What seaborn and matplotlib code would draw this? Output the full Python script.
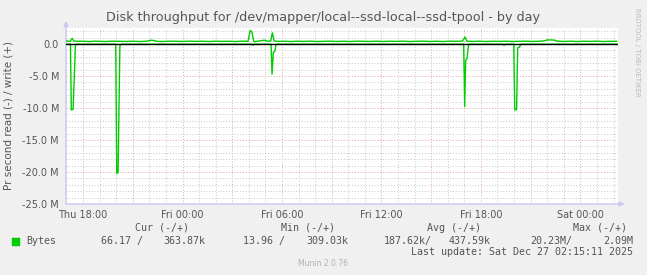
import numpy as np
import pandas as pd
import matplotlib
matplotlib.use("Agg")
import matplotlib.pyplot as plt
import matplotlib.dates as mdates
from matplotlib.ticker import MultipleLocator, FuncFormatter
import seaborn as sns

# ---------------- data (hours relative to Thu 2025-12-25 18:00, values in MB/s) ----------------
write_hours = [-1.00, -0.90, -0.78, -0.66, -0.56, -0.30, 0.00, 0.35, 0.70, 1.00, 1.40, 1.80, 2.20,
               2.60, 3.00, 3.40, 3.80, 4.15, 4.45, 4.80, 5.20, 5.60, 6.00, 6.40, 6.80, 7.20, 7.60,
               8.00, 8.40, 8.80, 9.20, 9.60, 9.95, 10.08, 10.18, 10.30, 10.55, 10.95, 11.15, 11.32,
               11.42, 11.52, 11.75, 12.10, 12.50, 12.90, 13.30, 13.70, 14.10, 14.50, 14.90, 15.30,
               15.70, 16.10, 16.50, 16.90, 17.30, 17.70, 18.10, 18.50, 18.90, 19.30, 19.70, 20.10,
               20.50, 20.90, 21.30, 21.70, 22.10, 22.50, 22.90, 23.04, 23.15, 23.50, 23.90, 24.30,
               24.70, 25.10, 25.50, 25.90, 26.30, 26.70, 27.10, 27.50, 27.85, 28.00, 28.40, 28.60,
               29.00, 29.40, 29.80, 30.20, 30.60, 31.00, 31.40, 31.80, 32.20]
write_vals = [0.50, 0.42, 0.42, 0.88, 0.46, 0.42, 0.44, 0.38, 0.44, 0.42, 0.39, 0.44, 0.42,
              0.40, 0.44, 0.39, 0.43, 0.60, 0.42, 0.39, 0.44, 0.42, 0.40, 0.44, 0.41, 0.43, 0.39,
              0.44, 0.41, 0.43, 0.39, 0.44, 0.42, 2.09, 1.95, 0.36, 0.44, 0.60, 0.42, 0.46,
              1.75, 0.50, 0.40, 0.44, 0.39, 0.43, 0.41, 0.44, 0.39, 0.42, 0.44, 0.40,
              0.43, 0.39, 0.44, 0.42, 0.40, 0.44, 0.39, 0.43, 0.41, 0.44, 0.39, 0.42,
              0.44, 0.40, 0.43, 0.39, 0.44, 0.42, 0.46, 1.10, 0.44, 0.40, 0.44, 0.39,
              0.43, 0.41, 0.44, 0.39, 0.42, 0.44, 0.40, 0.43, 0.50, 0.64, 0.62, 0.44,
              0.40, 0.44, 0.39, 0.43, 0.41, 0.44, 0.39, 0.42, 0.42]

read_hours = [-1.00, -0.76, -0.71, -0.60, -0.46, 1.97, 2.03, 2.11, 2.22, 2.30, 10.20, 10.26, 10.32,
              11.34, 11.40, 11.48, 11.56, 11.64, 22.96, 23.02, 23.08, 23.16, 23.26, 25.34, 25.39,
              25.45, 25.98, 26.04, 26.15, 26.22, 26.32, 26.42, 32.20]
read_vals = [0.03, 0.03, 10.30, 10.20, 0.03, 0.03, 20.23, 20.10, 0.30, 0.03, 0.03, 0.20, 0.03,
             0.03, 4.70, 1.30, 1.20, 0.03, 0.03, 9.80, 2.50, 2.30, 0.03, 0.03, 0.20,
             0.03, 0.03, 10.30, 10.25, 0.60, 0.50, 0.03, 0.03]

title = "Disk throughput for /dev/mapper/local--ssd-local--ssd-tpool - by day"
ylabel = "Pr second read (-) / write (+)"
legend_headers = ["Cur (-/+)", "Min (-/+)", "Avg (-/+)", "Max (-/+)"]
legend_values = ["66.17 /", "363.87k", "13.96 /", "309.03k", "187.62k/", "437.59k", "20.23M/", "2.09M"]
series_name = "Bytes"
last_update = "Last update: Sat Dec 27 02:15:11 2025"
version = "Munin 2.0.76"
watermark = "RRDTOOL / TOBI OETIKER"

base = pd.Timestamp("2025-12-25 18:00")
df = pd.concat([
    pd.DataFrame({"time": base + pd.to_timedelta(write_hours, unit="h"),
                  "value": write_vals, "dir": "write"}),
    pd.DataFrame({"time": base + pd.to_timedelta(read_hours, unit="h"),
                  "value": -np.array(read_vals), "dir": "read"}),
], ignore_index=True)

# ---------------- figure ----------------
sns.set_style("white")
plt.rcParams["font.family"] = ["DejaVu Sans"]
W, H = 647, 275
fig = plt.figure(figsize=(W / 100, H / 100), dpi=100, facecolor="#f0f0f0")
L, R, T, B = 66, 618, 28, 204
ax = fig.add_axes([L / W, 1 - B / H, (R - L) / W, (B - T) / H])
ax.set_facecolor("white")

GRID_MINOR = "#c8c8c8"
GRID_MAJOR = "#e8a8a8"
TXT = "#555555"

sns.lineplot(data=df, x="time", y="value", hue="dir", palette={"write": "#00cc00", "read": "#00cc00"},
             estimator=None, legend=False, lw=1.0, ax=ax, zorder=4)
ax.axhline(0, color="black", lw=1.0, zorder=5)

ax.set_xlim(base - pd.Timedelta(hours=1.03), base + pd.Timedelta(hours=32.27))
ax.set_ylim(-25, 2.5)

# x grid
ax.xaxis.set_major_locator(mdates.HourLocator(byhour=range(0, 24, 3)))
ax.xaxis.set_minor_locator(mdates.HourLocator())
def xfmt(v, pos):
    d = mdates.num2date(v)
    return d.strftime("%a %H:%M") if d.hour % 6 == 0 else ""
ax.xaxis.set_major_formatter(FuncFormatter(xfmt))
# y grid
ax.yaxis.set_major_locator(MultipleLocator(5))
ax.yaxis.set_minor_locator(MultipleLocator(1))
ax.yaxis.set_major_formatter(FuncFormatter(lambda v, p: "0.0" if abs(v) < 1e-9 else f"{v:.1f} M"))

ax.grid(which="minor", color=GRID_MINOR, lw=0.72, ls=(0, (1, 1.8)), zorder=1)
ax.grid(which="major", color=GRID_MAJOR, lw=0.72, ls=(0, (1, 1.8)), zorder=2)
ax.tick_params(which="minor", length=0)
ax.tick_params(axis="x", which="major", length=2, color=GRID_MAJOR, labelsize=7, labelcolor=TXT, pad=2)
ax.tick_params(axis="y", which="major", length=0, labelsize=7, labelcolor=TXT, pad=5)
ax.set_xlabel("")
ax.set_ylabel(ylabel, fontsize=7.5, color=TXT, labelpad=6)
for s in ax.spines.values():
    s.set_visible(False)

# axis lines with arrows
AX_COL = "#c8c8f0"
ax.annotate("", xy=(0, 1.04), xytext=(0, 0), xycoords="axes fraction",
            arrowprops=dict(arrowstyle="-|>", color=AX_COL, lw=1, mutation_scale=7, shrinkA=0, shrinkB=0))
ax.annotate("", xy=(1.012, 0), xytext=(0, 0), xycoords="axes fraction",
            arrowprops=dict(arrowstyle="-|>", color=AX_COL, lw=1, mutation_scale=7, shrinkA=0, shrinkB=0))

# title & other text
fig.text(323 / W, 1 - 17 / H, title, ha="center", va="center", fontsize=9.2, color=TXT)
fig.text(637 / W, 1 - 52 / H, watermark, ha="center", va="center", rotation=270, fontsize=5, color="#bbbbbb")

mono = dict(family="DejaVu Sans Mono", fontsize=7.2, color=TXT, va="center")
for txt, xr in zip(legend_headers, [189, 335, 481, 627]):
    fig.text(xr / W, 1 - 228 / H, txt, ha="right", **mono)
for txt, xr in zip(legend_values, [143, 205, 285, 348, 432, 491, 572, 633]):
    fig.text(xr / W, 1 - 241 / H, txt, ha="right", **mono)
fig.patches.append(plt.Rectangle((12 / W, 1 - 245 / H), 7 / W, 7 / H, transform=fig.transFigure,
                                 color="#00cc00", figure=fig))
fig.text(26 / W, 1 - 241 / H, series_name, ha="left", **mono)
fig.text(633 / W, 1 - 252 / H, last_update, ha="right", **mono)
fig.text(323 / W, 1 - 264 / H, version, ha="center", va="center", fontsize=5.5, color="#b0b0b0")

fig.savefig("out.png", dpi=100, facecolor=fig.get_facecolor())
